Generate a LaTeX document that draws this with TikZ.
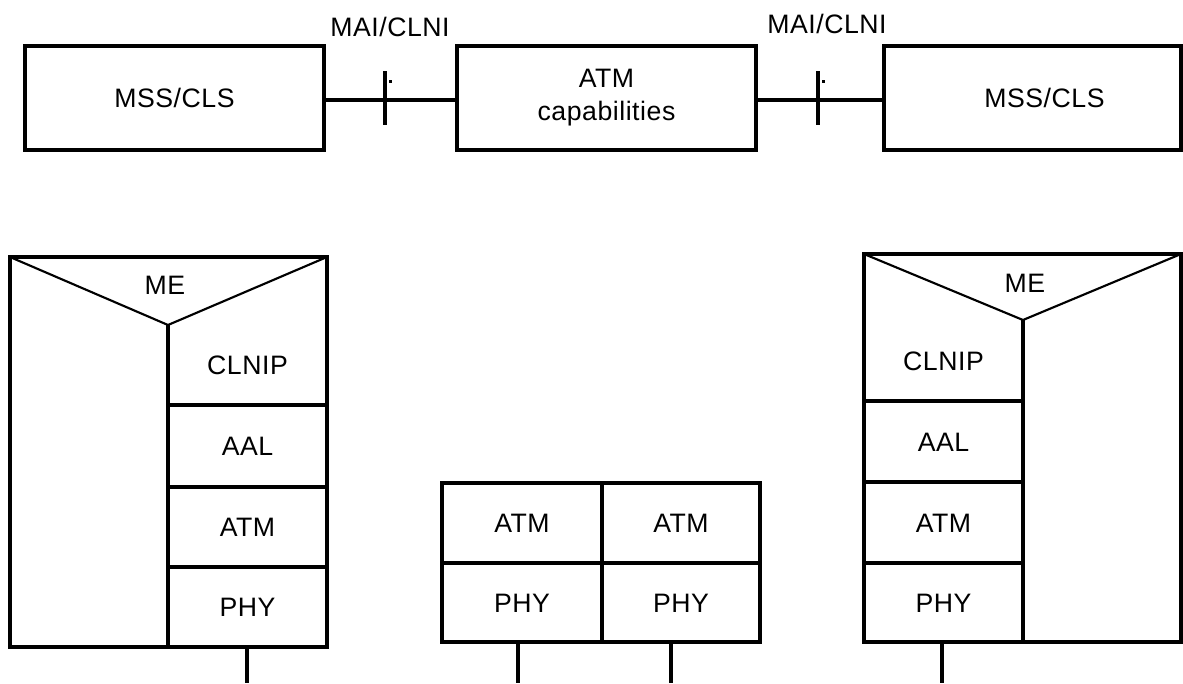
\documentclass[tikz,border=0pt]{standalone}
\usepackage{fontspec}
\setmainfont{Liberation Sans}[LetterSpace=2]
\begin{document}
\begin{tikzpicture}[x=0.75pt,y=-0.75pt,
  every node/.style={font=\fontsize{20}{24.75}\selectfont},
  ln/.style={line width=2.3pt},
  thinln/.style={line width=1.6pt},
  frame/.style 2 args={draw, line width=2.3pt, inner sep=0pt, minimum width=#1*0.75pt, minimum height=#2*0.75pt},
  caps/.style={text height=14.3pt, text depth=0pt},
  lbl/.style={inner sep=0pt, text height=14.3pt, text depth=0pt}]
\useasboundingbox (0,0) rectangle (1183,683);

% top row
\node[frame={299}{104},caps] (mssL) at (174.5,98) {MSS/CLS};
\node[frame={299}{104},align=center] (atmC) at (606.5,98) {ATM\\capabilities};
\node[frame={297}{104},caps] (mssR) at (1032.5,98) {\hspace*{18pt}MSS/CLS};
\draw[ln] ([yshift=-1.5pt]mssL.east) -- ([yshift=-1.5pt]atmC.west);
\draw[ln] ([yshift=-1.5pt]atmC.east) -- ([yshift=-1.5pt]mssR.west);
\draw[ln] (385,71) -- (385,125);
\fill (388.5,79.5) rectangle (391.5,82.5);
\draw[ln] (818,71) -- (818,125);
\fill (821.5,79.5) rectangle (824.5,82.5);
\node[lbl] (mai1) at (390,27) {MAI/CLNI};
\node[lbl] (mai2) at (827,24) {MAI/CLNI};

% left stack
\draw[ln] (10,257) rectangle (327,647);
\draw[thinln] (10,257) -- (168,325) -- (327,257);
\draw[ln] (168,325) -- (168,647);
\node[lbl] (meL) at (165,285) {ME};
\node[lbl] (lclnip) at (247.5,365) {CLNIP};
\node[frame={159}{82},caps] (laal) at (247.5,446) {AAL};
\node[frame={159}{80},caps] (latm) at (247.5,527) {ATM};
\node[frame={159}{80},caps] (lphy) at (247.5,607) {PHY};
\coordinate (le) at (247,683);
\draw[ln] (lphy.south -| le) -- (le);

% middle stack
\node[frame={160}{80},caps] (matm1) at (522,523) {ATM};
\node[frame={158}{80},caps] (matm2) at (681,523) {ATM};
\node[frame={160}{79},caps] (mphy1) at (522,602.5) {PHY};
\node[frame={158}{79},caps] (mphy2) at (681,602.5) {PHY};
\coordinate (me1) at (518,683);
\coordinate (me2) at (671,683);
\draw[ln] (mphy1.south -| me1) -- (me1);
\draw[ln] (mphy2.south -| me2) -- (me2);

% right stack
\draw[ln] (864,254) rectangle (1181,642);
\draw[thinln] (864,254) -- (1023,320) -- (1181,254);
\draw[ln] (1023,320) -- (1023,642);
\node[lbl] (meR) at (1025,283) {ME};
\node[lbl] (rclnip) at (943.5,360.5) {CLNIP};
\node[frame={159}{81},caps] (raal) at (943.5,441.5) {AAL};
\node[frame={159}{81},caps] (ratm) at (943.5,522.5) {ATM};
\node[frame={159}{79},caps] (rphy) at (943.5,602.5) {PHY};
\coordinate (re) at (942,683);
\draw[ln] (rphy.south -| re) -- (re);
\end{tikzpicture}
\end{document}
